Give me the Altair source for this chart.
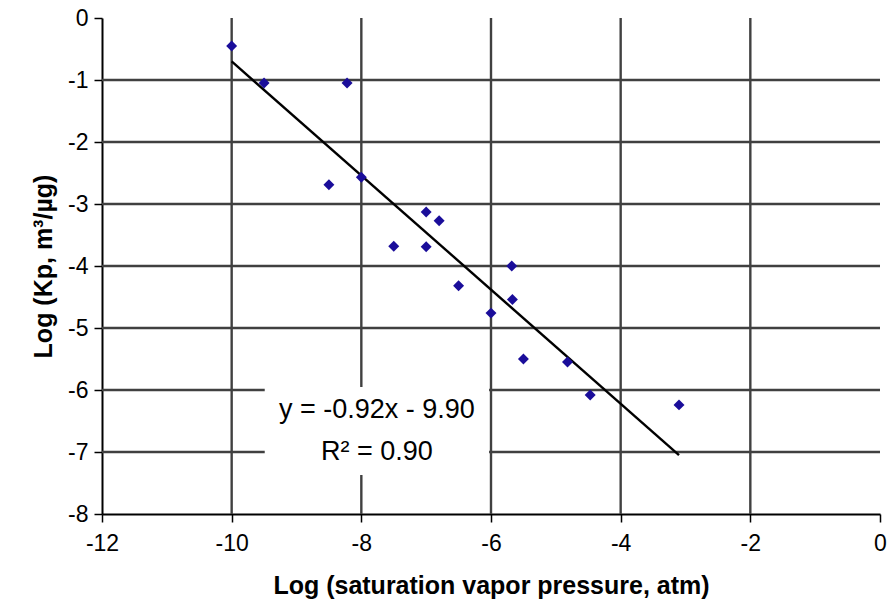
import altair as alt
import pandas as pd

# Data
x_vals = [-10.0, -9.5, -8.22, -8.5, -8.0, -7.0, -6.8, -7.5, -7.0, -6.5,
          -5.68, -5.67, -6.0, -5.5, -4.82, -4.47, -3.1]
y_vals = [-0.45, -1.05, -1.05, -2.69, -2.57, -3.13, -3.27, -3.68, -3.69, -4.32,
          -4.0, -4.54, -4.76, -5.5, -5.55, -6.08, -6.24]

trend_x = [-10.0, -3.1]
trend_y = [-0.70, -7.05]

x_ticks = [-12, -10, -8, -6, -4, -2, 0]
y_ticks = [0, -1, -2, -3, -4, -5, -6, -7, -8]
grid_x = [-10, -8, -6, -4, -2]
grid_y = [-1, -2, -3, -4, -5, -6, -7]

eq_lines = ["y = -0.92x - 9.90", "R\u00b2 = 0.90"]
eq_x = [-7.76, -7.76]
eq_y = [-6.32, -7.0]
box_x = [-9.49, -6.03]
box_y = [-5.95, -7.37]

FONT = "Liberation Sans"

pts = pd.DataFrame({"x": x_vals, "y": y_vals})
trend = pd.DataFrame({"x": trend_x, "y": trend_y})
gx = pd.DataFrame({"x": grid_x})
gy = pd.DataFrame({"y": grid_y})
eq = pd.DataFrame({"t": eq_lines, "x": eq_x, "y": eq_y})
box = pd.DataFrame({"x": [box_x[0]], "x2": [box_x[1]], "y": [box_y[0]], "y2": [box_y[1]]})

xscale = alt.Scale(domain=[-12, 0], nice=False, zero=False)
yscale = alt.Scale(domain=[-8, 0], nice=False, zero=False)

xaxis = alt.Axis(values=x_ticks, title="Log (saturation vapor pressure, atm)",
                 labelExpr="'' + datum.value",
                 grid=False, labelFontSize=23, titleFontSize=25, labelFont=FONT,
                 titleFont=FONT, titleFontWeight="bold", labelColor="black",
                 titleColor="black", domainColor="black", domainWidth=2,
                 tickColor="black", tickWidth=1.5, tickSize=8, labelPadding=10,
                 titlePadding=18, labelFlush=False, labelOverlap=False)
yaxis = alt.Axis(values=y_ticks, title="Log (Kp, m\u00b3/\u00b5g)",
                 labelExpr="'' + datum.value",
                 grid=False, labelFontSize=23, titleFontSize=25, labelFont=FONT,
                 titleFont=FONT, titleFontWeight="bold", labelColor="black",
                 titleColor="black", domainColor="black", domainWidth=2,
                 tickColor="black", tickWidth=1.5, tickSize=8, labelPadding=6,
                 titlePadding=11, labelFlush=False, labelOverlap=False)

def X(f="x:Q"):
    return alt.X(f, scale=xscale, axis=xaxis)

def Y(f="y:Q"):
    return alt.Y(f, scale=yscale, axis=yaxis)

GRID = "#404040"

vgrid = alt.Chart(gx).mark_rule(color=GRID, strokeWidth=2.4).encode(x=X())
hgrid = alt.Chart(gy).mark_rule(color=GRID, strokeWidth=2.4).encode(y=Y())

boxes = alt.Chart(box).mark_rect(color="white").encode(
    x=X(), x2="x2:Q", y=Y(), y2="y2:Q")

line = alt.Chart(trend).mark_line(color="black", strokeWidth=2.4).encode(
    x=X(), y=Y())

points = alt.Chart(pts).mark_point(shape="diamond", filled=True, size=120,
                                   color="#1a0d9a", opacity=1).encode(
    x=X(), y=Y())

text = alt.Chart(eq).mark_text(fontSize=27, font=FONT, color="black",
                               align="center", baseline="middle").encode(
    x=X(), y=Y(), text="t:N")

chart = alt.layer(vgrid, hgrid, boxes, line, points, text).properties(
    width=778, height=496,
    autosize=alt.AutoSizeParams(type="none"),
    padding={"left": 102, "top": 18, "right": 15, "bottom": 88},
    background="white",
).configure_view(stroke=None)

chart.save("out.html", embed_options={"renderer": "svg", "actions": False})
